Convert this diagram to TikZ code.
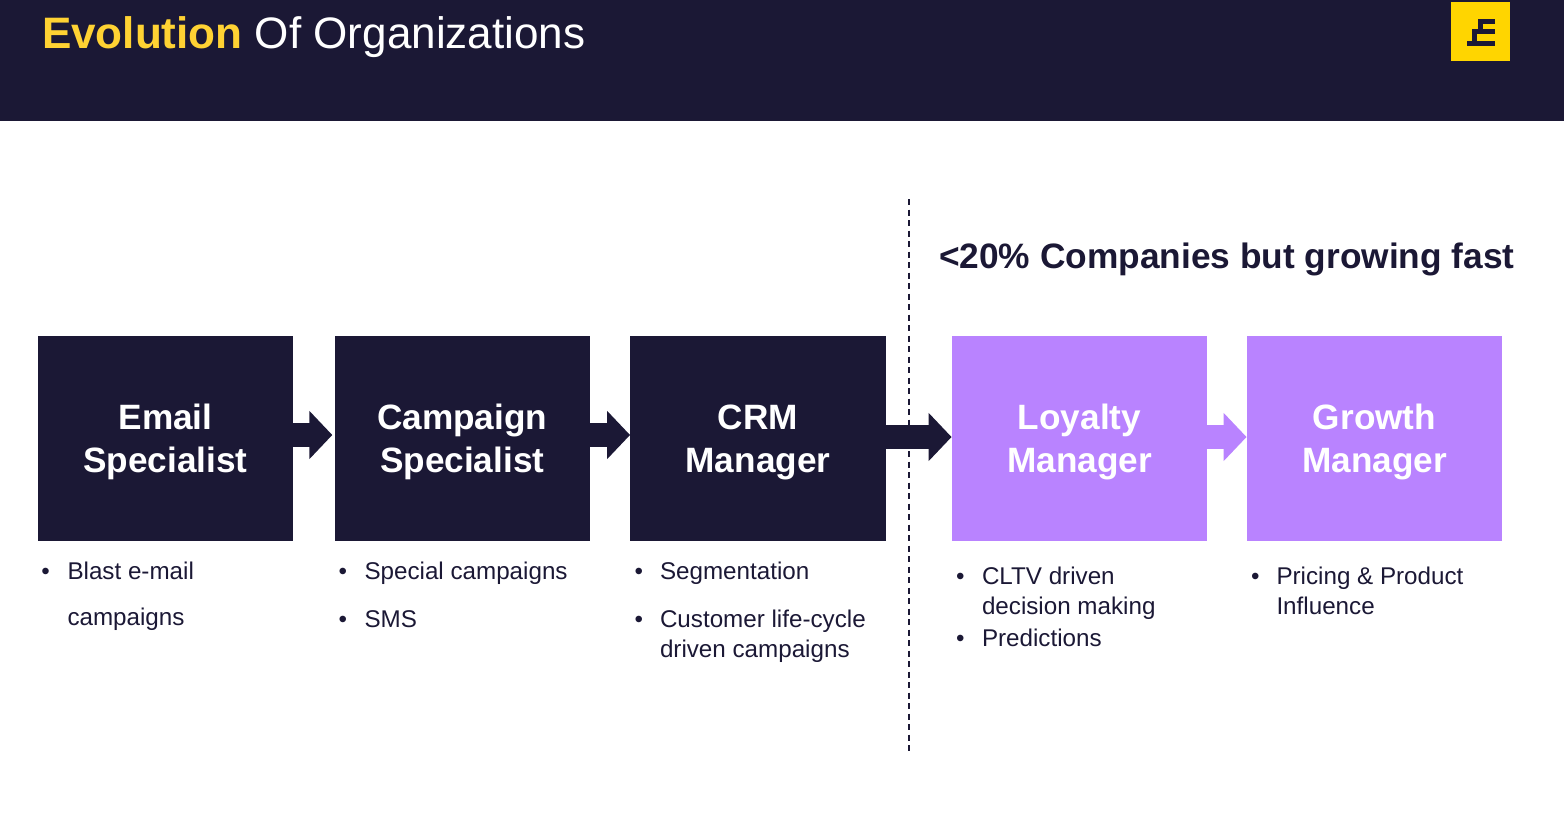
\documentclass[tikz,border=0pt]{standalone}
\usepackage{fontspec}
\setmainfont{Liberation Sans}
\usetikzlibrary{arrows.meta}
\definecolor{navy}{HTML}{1B1835}
\definecolor{lilac}{HTML}{B983FF}
\definecolor{gold}{HTML}{FFD500}
\definecolor{titlegold}{HTML}{FFD233}
\newcommand{\lowered}{\rule{0pt}{32pt}}
\tikzset{
  x=1pt,y=-1pt,
  rolebox/.style={minimum width=255.5pt,minimum height=205pt,inner sep=0pt,text=white,align=center,
    font=\fontsize{35.2}{42.5}\selectfont\bfseries},
  darkbox/.style={rolebox,fill=navy},
  lilacbox/.style={rolebox,fill=lilac},
  txt/.style={anchor=base west,inner sep=0pt,outer sep=0pt,text=navy,font=\fontsize{24.2}{29}\selectfont},
  bul/.style={txt,text=navy},
  flow/.style={line width=24pt,-{Triangle[length=23pt,width=47pt]}},
}
\begin{document}
\begin{tikzpicture}
\useasboundingbox (0,0) rectangle (1564,836);
\fill[navy] (0,0) rectangle (1564,121);
\fill[gold] (1451,2) rectangle (1510,61);
\filldraw[navy,line width=0.7pt] (1478,19) -- (1494,19) -- (1494,23.5) -- (1482,23.5) -- (1482,29.5) -- (1494,29.5) -- (1494,33.5) -- (1476,33.5)
  -- (1476,41) -- (1494,41) -- (1494,45.5) -- (1467,45.5) -- (1467,41) -- (1472,41) -- (1472,29.5) -- (1478,29.5) -- cycle;
\node[txt,text=white,font=\fontsize{44.05}{50}\selectfont] (title) at (42,48) {\textcolor{titlegold}{\bfseries Evolution} Of Organizations};
\coordinate (dtop) at (909.3,199);
\coordinate (dbot) at (909.3,751);
\draw[navy,line width=1.7pt,dash pattern=on 6pt off 4.5pt] (dtop) -- (dbot);
\node[txt,font=\fontsize{35.3}{42}\selectfont\bfseries] (head) at (939,268.5) {<20\% Companies but growing fast};

\node[darkbox] (a) at (165.5,438.5) {\lowered Email\\Specialist};
\node[darkbox] (b) at (462.25,438.5) {\lowered Campaign\\Specialist};
\node[darkbox] (c) at (758,438.5) {\lowered CRM\\Manager};
\node[lilacbox] (d) at (1079.5,438.5) {\lowered Loyalty\\Manager};
\node[lilacbox] (e) at (1374.5,438.5) {\lowered Growth\\Manager};

\draw[flow,navy] ([yshift=3.5pt]a.east) -- ([yshift=3.5pt,xshift=-2pt]b.west);
\draw[flow,navy] ([yshift=3.5pt]b.east) -- ([yshift=3.5pt]c.west);
\draw[flow,navy] ([yshift=1.5pt]c.east) -- ([yshift=1.5pt]d.west);
\draw[flow,lilac] ([yshift=1.5pt]d.east) -- ([yshift=1.5pt]e.west);

\node[bul] (a1b) at (41.5,579) {•};
\node[txt] (a1) at (67.5,579) {Blast e-mail};
\node[txt] (a2) at (67.5,625) {campaigns};
\node[bul] (b1b) at (338.5,579) {•};
\node[txt] (b1) at (364.5,579) {Special campaigns};
\node[bul] (b2b) at (338.5,627) {•};
\node[txt] (b2) at (364.5,627) {SMS};
\node[bul] (c1b) at (634.5,579) {•};
\node[txt] (c1) at (660,579) {Segmentation};
\node[bul] (c2b) at (634.5,627) {•};
\node[txt] (c2) at (660,627) {Customer life-cycle};
\node[txt] (c3) at (660,657) {driven campaigns};
\node[bul] (d1b) at (956,584) {•};
\node[txt] (d1) at (982,584) {CLTV driven};
\node[txt] (d2) at (982,614) {decision making};
\node[bul] (d3b) at (956,646) {•};
\node[txt] (d3) at (982,646) {Predictions};
\node[bul] (e1b) at (1251,584) {•};
\node[txt] (e1) at (1276.5,584) {Pricing \& Product};
\node[txt] (e2) at (1276.5,614) {Influence};
\end{tikzpicture}
\end{document}
